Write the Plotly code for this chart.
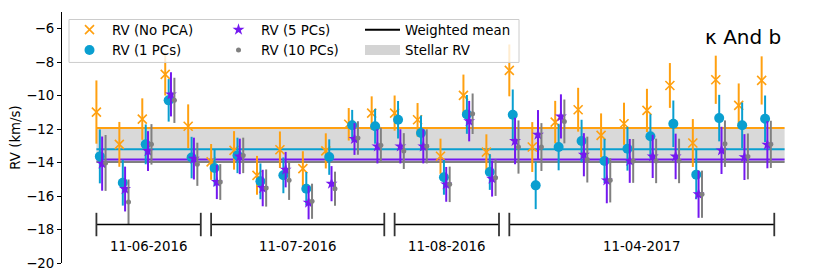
import plotly.graph_objects as go

# ---------------- data ----------------
obs_index = list(range(30))

rv_nopca = [-10.98, -12.91, -11.40, -8.73, -11.83, -13.96, -13.27, -14.76, -13.23, -14.36,
            -13.30, -11.71, -11.04, -11.04, -11.44, -13.62, -9.98, -13.37, -8.49, -13.07,
            -11.58, -10.84, -12.37, -11.68, -10.88, -9.39, -12.83, -9.05, -10.58, -9.09]
err_nopca = [1.89, 1.34, 1.24, 1.26, 1.31, 1.07, 1.15, 1.16, 1.09, 1.04,
             1.05, 0.97, 1.00, 1.05, 1.00, 1.05, 1.24, 1.06, 1.55, 1.49,
             1.27, 1.31, 1.31, 1.26, 1.29, 1.34, 1.43, 1.44, 1.31, 1.44]

rv_1pc = [-13.63, -15.20, -12.91, -10.28, -13.70, -14.32, -13.57, -15.12, -14.76, -15.56,
          -13.67, -11.77, -11.83, -11.44, -12.23, -14.88, -11.12, -14.56, -11.14, -15.36,
          -13.07, -12.71, -13.90, -13.17, -12.43, -11.68, -14.72, -11.34, -11.77, -11.38]
err_1pc = [1.61, 1.37, 1.19, 1.27, 1.24, 1.09, 1.06, 1.07, 1.07, 1.00,
           1.06, 0.92, 1.04, 1.12, 1.04, 1.04, 1.16, 1.07, 1.51, 1.42,
           1.39, 1.27, 1.32, 1.31, 1.32, 1.39, 1.47, 1.39, 1.36, 1.39]

rv_5pc = [-14.06, -15.58, -13.31, -9.92, -13.76, -15.16, -13.63, -15.52, -14.42, -16.39,
          -15.26, -12.59, -13.03, -13.03, -13.03, -15.30, -11.52, -14.96, -12.71, -12.33,
          -11.24, -13.53, -15.06, -13.90, -13.63, -13.63, -15.89, -13.27, -13.67, -12.93]
err_5pc = [1.62, 1.34, 1.19, 1.32, 1.25, 1.02, 1.06, 1.09, 1.06, 1.00,
           1.05, 0.95, 1.02, 1.02, 1.02, 1.04, 1.21, 1.07, 1.39, 1.47,
           1.32, 1.29, 1.37, 1.31, 1.29, 1.36, 1.41, 1.41, 1.37, 1.41]

rv_10pc = [-14.02, -16.35, -12.91, -10.28, -14.10, -15.16, -13.57, -15.52, -15.06, -16.31,
           -15.56, -12.53, -12.97, -13.31, -13.03, -15.30, -11.08, -14.90, -13.07, -13.07,
           -11.54, -13.82, -15.06, -13.90, -13.90, -13.90, -15.89, -12.87, -13.63, -12.91]
err_10pc = [1.67, 1.34, 1.21, 1.35, 1.29, 1.07, 1.06, 1.11, 1.17, 1.05,
            1.02, 1.00, 1.05, 1.07, 1.02, 1.06, 1.21, 1.09, 1.59, 1.43,
            1.31, 1.37, 1.32, 1.31, 1.33, 1.33, 1.41, 1.39, 1.37, 1.41]

weighted_means = [-11.93, -13.20, -13.82, -13.97]   # No PCA, 1, 5, 10 PCs
stellar_rv = -12.96
stellar_rv_err = 1.0

group_labels = ['11-06-2016', '11-07-2016', '11-08-2016', '11-04-2017']
group_first = [0, 5, 13, 18]
group_last = [4, 12, 17, 29]

series_names = ['RV (No PCA)', 'RV (1 PCs)', 'RV (5 PCs)', 'RV (10 PCs)']

# ---------------- styles ----------------
FONT = 'DejaVu Sans'
FS = 13.33
colors = ['#FFA010', '#0A9FD0', '#7418F0', '#808080']
offsets = [0.0, 0.15, 0.25, 0.40]
markers = [dict(symbol='x-thin', size=9, line=dict(width=1.6, color=colors[0]), color=colors[0]),
           dict(symbol='circle', size=10, color=colors[1], line=dict(width=0)),
           dict(symbol='star', size=9, color=colors[2], line=dict(width=0)),
           dict(symbol='circle', size=5, color=colors[3], line=dict(width=0))]
legends = ['legend', 'legend', 'legend2', 'legend2']

x_lo, x_hi = obs_index[0], obs_index[-1] + 1

fig = go.Figure()

# stellar RV band
fig.add_trace(go.Scatter(
    x=[x_lo, x_hi, x_hi, x_lo, x_lo],
    y=[stellar_rv + stellar_rv_err, stellar_rv + stellar_rv_err,
       stellar_rv - stellar_rv_err, stellar_rv - stellar_rv_err, stellar_rv + stellar_rv_err],
    fill='toself', fillcolor='#d9d9d9', mode='none', showlegend=False, hoverinfo='skip'))

# weighted mean lines
for wm, c in zip(weighted_means, colors):
    fig.add_trace(go.Scatter(x=[x_lo, x_hi], y=[wm, wm], mode='lines',
                             line=dict(color=c, width=2), showlegend=False, hoverinfo='skip'))
fig.add_trace(go.Scatter(x=[None], y=[None], mode='lines', line=dict(color='black', width=2),
                         name='Weighted mean', legend='legend3', legendrank=1))
fig.add_trace(go.Scatter(x=[None], y=[None], mode='lines', line=dict(color='#d4d4d4', width=10),
                         name='Stellar RV', legend='legend3', legendrank=2))

# RV series
all_rv = [rv_nopca, rv_1pc, rv_5pc, rv_10pc]
all_err = [err_nopca, err_1pc, err_5pc, err_10pc]
for k in range(4):
    fig.add_trace(go.Scatter(
        x=[i + offsets[k] for i in obs_index], y=all_rv[k], mode='markers',
        marker=markers[k], name=series_names[k], legend=legends[k],
        error_y=dict(type='data', array=all_err[k], thickness=2, width=0, color=colors[k])))

# date brackets
bracket_y = -17.7
for lab, a, b in zip(group_labels, group_first, group_last):
    x0, x1 = a, b + 0.55
    fig.add_trace(go.Scatter(x=[x0, x1], y=[bracket_y, bracket_y], mode='lines',
                             line=dict(color='black', width=1.5), showlegend=False, hoverinfo='skip'))
    for xe in (x0, x1):
        fig.add_trace(go.Scatter(x=[xe, xe], y=[-17.0, -18.4], mode='lines',
                                 line=dict(color='#333333', width=1.8), showlegend=False, hoverinfo='skip'))
    fig.add_annotation(x=(x0 + x1) / 2, y=-19.0, text=lab, showarrow=False,
                       font=dict(family=FONT, size=FS, color='black'), xanchor='center', yanchor='middle')

# ---------------- layout ----------------
# the page body adds an 8px offset; work in screen pixels and subtract it
OFF = 8
W, H = 831 - OFF, 279 - OFF
ml, mr, mt, mb = 62 - OFF, 12, 11.5 - OFF, 16.2
pw = W - ml - mr
ph = H - mt - mb

def px2x(px):
    return (px - OFF - ml) / pw

def py2y(py):
    return 1 - (py - OFF - mt) / ph

leg_common = dict(bgcolor='rgba(0,0,0,0)', borderwidth=0, orientation='v',
                  font=dict(family=FONT, size=FS, color='black'),
                  xanchor='left', yanchor='top', tracegroupgap=0, itemwidth=35)

leg_top = 14
fig.update_layout(
    width=W, height=H,
    margin=dict(l=ml, r=mr, t=mt, b=mb, autoexpand=False),
    plot_bgcolor='white', paper_bgcolor='white',
    font=dict(family=FONT, size=FS, color='black'),
    xaxis=dict(visible=False, range=[-1.5, 31.5], automargin=False),
    yaxis=dict(range=[-20, -5], tickmode='array', tickvals=[-20, -18, -16, -14, -12, -10, -8, -6],
               showline=True, linecolor='black', linewidth=1, ticks='outside', ticklen=4,
               tickwidth=1, tickcolor='black', showgrid=False, zeroline=False, automargin=False,
               tickfont=dict(family=FONT, size=FS, color='black'),
               title=dict(text='RV (km/s)', font=dict(family=FONT, size=FS, color='black'), standoff=8)),
    legend=dict(x=px2x(67), y=py2y(leg_top), **leg_common),
    legend2=dict(x=px2x(216), y=py2y(leg_top), **leg_common),
    legend3=dict(x=px2x(360), y=py2y(leg_top), **leg_common),
    showlegend=True,
)

# legend frame
fig.add_shape(type='rect', xref='paper', yref='paper',
              x0=px2x(69), x1=px2x(519), y0=py2y(62), y1=py2y(19),
              fillcolor='rgba(255,255,255,0.8)', line=dict(color='#cccccc', width=1), layer='above')

fig.add_annotation(xref='paper', yref='paper', x=px2x(783), y=py2y(37), text='κ And b',
                   showarrow=False, xanchor='right', yanchor='middle',
                   font=dict(family=FONT, size=20, color='black'))

fig.write_html('out.html')
